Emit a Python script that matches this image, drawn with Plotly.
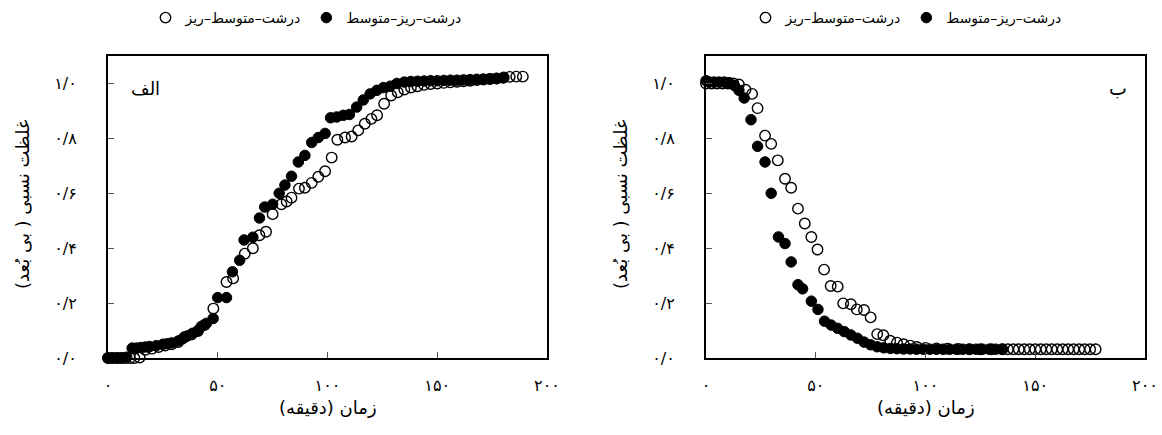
import plotly.graph_objects as go

# ---------------- data ----------------
# panel الف (left)
a_fill_t = [0, 2, 4, 6, 8.5, 11, 13, 15, 17, 19, 22, 25, 27, 29, 32, 34, 36, 38.5, 41, 42.5,
            44.8, 47.9, 50, 54, 56.7, 60, 62, 66, 69, 71.4, 75, 78, 80.6, 83.6, 86.7,
            89.7, 92.8, 95.8, 98.9, 101.4, 104.2, 107.2, 110, 113.3, 116.3, 119.4, 122.5,
            125.5, 128.6, 131.6, 135, 138, 141, 144, 147, 150, 153, 156, 159, 162, 165,
            168, 171, 174, 177, 180]
a_fill_c = [0, 0, 0, 0, 0.003, 0.036, 0.036, 0.038, 0.04, 0.042, 0.045, 0.05, 0.052, 0.055,
            0.062, 0.07, 0.08, 0.09, 0.1, 0.115, 0.126, 0.144, 0.22, 0.22, 0.314, 0.356, 0.43,
            0.44, 0.51, 0.55, 0.56, 0.6, 0.63, 0.662, 0.714, 0.738, 0.785, 0.803, 0.818, 0.875,
            0.878, 0.884, 0.887, 0.914, 0.94, 0.962, 0.975, 0.985, 0.99, 1.0, 1.005, 1.007,
            1.008, 1.009, 1.01, 1.01, 1.011, 1.012, 1.012, 1.013, 1.014, 1.015, 1.016, 1.017,
            1.018, 1.02]
a_open_t = [0, 2, 4, 6, 8, 10, 12, 14.4, 17, 20, 23, 26, 29, 32, 35, 38, 41, 44, 48, 54, 57,
            62.3, 66, 69, 72, 75, 79, 81.4, 83.6, 87, 89.7, 92.8, 95.8, 98.9, 101.9, 104.5,
            108, 111, 114, 117, 120, 122.6, 125.8, 129, 132, 135, 138, 141, 144, 147, 150,
            153, 156, 159, 162, 165, 168, 171, 174, 177, 180.3, 183, 186, 189]
a_open_c = [0, 0, 0, 0, 0, 0, 0, 0.002, 0.03, 0.034, 0.04, 0.045, 0.05, 0.058, 0.077, 0.085,
            0.098, 0.12, 0.18, 0.277, 0.29, 0.38, 0.4, 0.447, 0.46, 0.524, 0.56, 0.57, 0.584,
            0.617, 0.62, 0.638, 0.66, 0.68, 0.73, 0.795, 0.803, 0.807, 0.829, 0.853, 0.871,
            0.884, 0.926, 0.956, 0.968, 0.978, 0.985, 0.99, 0.995, 0.998, 1.0, 1.002, 1.004,
            1.006, 1.008, 1.01, 1.012, 1.014, 1.016, 1.018, 1.022, 1.024, 1.025, 1.025]

# panel ب (right)
b_fill_t = [0, 1.5, 3.7, 6, 8.3, 10.5, 12.8, 15, 17.4, 20.5, 23.5, 26.9, 29.7, 33, 36, 38.8,
            41.9, 44, 48, 51, 54, 57, 60, 63, 66, 69, 72, 75, 78, 81, 84, 87, 90, 93, 96, 99,
            102, 105, 108, 111, 114, 117, 120, 123, 126, 129, 132, 135]
b_fill_c = [1.01, 1.005, 1.005, 1.005, 1.005, 1.003, 0.993, 0.975, 0.947, 0.868, 0.771, 0.714,
            0.6, 0.441, 0.417, 0.35, 0.267, 0.252, 0.207, 0.177, 0.134, 0.12, 0.108, 0.096,
            0.084, 0.072, 0.058, 0.048, 0.041, 0.037, 0.035, 0.034, 0.033, 0.033, 0.032, 0.032,
            0.032, 0.032, 0.032, 0.032, 0.032, 0.032, 0.032, 0.032, 0.032, 0.032, 0.032, 0.032]
b_open_t = [0, 2.5, 5, 7.5, 10, 12.5, 15, 18, 21, 23.5, 26.9, 29.7, 32.7, 36, 38.8, 41.9, 45,
            48, 50.8, 53.8, 56.8, 60, 62.5, 66, 68.7, 72, 75, 78, 80.8, 83.9, 87, 90, 93, 96,
            100, 105, 110, 115, 120, 125, 130, 135, 137.5, 140, 142.5, 145, 147.5, 150, 152.5,
            155, 157.5, 160, 162.5, 165, 167.5, 170, 172.5, 175, 177.5]
b_open_c = [1, 1, 1, 1, 1, 1, 0.996, 0.977, 0.962, 0.91, 0.81, 0.78, 0.72, 0.653, 0.62, 0.544,
            0.49, 0.441, 0.395, 0.322, 0.262, 0.26, 0.199, 0.196, 0.177, 0.175, 0.148, 0.087,
            0.083, 0.063, 0.056, 0.05, 0.045, 0.04, 0.037, 0.035, 0.034, 0.033, 0.032, 0.032,
            0.032, 0.032, 0.032, 0.032, 0.032, 0.032, 0.032, 0.032, 0.032, 0.032, 0.032, 0.032,
            0.032, 0.032, 0.032, 0.032, 0.032, 0.032, 0.032]

name_open = "درشت–متوسط–ریز"
name_fill = "درشت–ریز–متوسط"
panel_labels = ["الف", "ب"]
x_title = "زمان (دقیقه)"
y_title = "غلظت نسبی ( بی بُعد)"
x_tickvals = [0, 50, 100, 150, 200]
x_ticktext = ["۰", "۵۰", "۱۰۰", "۱۵۰", "۲۰۰"]
y_tickvals = [0, 0.2, 0.4, 0.6, 0.8, 1.0]
y_ticktext = ["۰/۰", "۰/۲", "۰/۴", "۰/۶", "۰/۸", "۱/۰"]

# ---------------- figure ----------------
W, H = 1162, 435
FONT = "DejaVu Sans"

fig = go.Figure()

open_marker = dict(symbol="circle-open", size=10.5, color="black", line=dict(width=1.4, color="black"))
fill_marker = dict(symbol="circle", size=10.5, color="black", line=dict(width=1, color="black"))

fig.add_trace(go.Scatter(x=a_open_t, y=a_open_c, mode="markers", name=name_open,
                         marker=open_marker, xaxis="x", yaxis="y", legend="legend", cliponaxis=False))
fig.add_trace(go.Scatter(x=a_fill_t, y=a_fill_c, mode="markers", name=name_fill,
                         marker=fill_marker, xaxis="x", yaxis="y", legend="legend", cliponaxis=False))
fig.add_trace(go.Scatter(x=b_open_t, y=b_open_c, mode="markers", name=name_open,
                         marker=open_marker, xaxis="x2", yaxis="y2", legend="legend2", cliponaxis=False))
fig.add_trace(go.Scatter(x=b_fill_t, y=b_fill_c, mode="markers", name=name_fill,
                         marker=fill_marker, xaxis="x2", yaxis="y2", legend="legend2", cliponaxis=False))

def px_x(p):
    return p / W

def px_y(p):
    return 1 - p / H

ydom = [px_y(358), px_y(56)]
xdom1 = [px_x(108), px_x(547)]
xdom2 = [px_x(706), px_x(1145)]

TICKSIZE = 16
TITLESIZE = 18
LEGENDSIZE = 14

xcommon = dict(range=[0, 200], tickvals=x_tickvals, ticktext=x_ticktext, ticks="inside",
               ticklen=6, tickwidth=1, tickcolor="#555", showline=True, linecolor="black",
               linewidth=2, mirror=True, showgrid=False, zeroline=False, automargin=False,
               tickfont=dict(family=FONT, size=TICKSIZE, color="black"), ticklabelstandoff=12)
ycommon = dict(range=[0, 1.1], tickvals=y_tickvals, ticktext=y_ticktext, ticks="inside",
               ticklen=6, tickwidth=1, tickcolor="#555", showline=True, linecolor="black",
               linewidth=2, mirror=True, showgrid=False, zeroline=False, automargin=False,
               tickfont=dict(family=FONT, size=TICKSIZE, color="black"), ticklabelstandoff=26)

legend_common = dict(orientation="h", xanchor="center", yanchor="middle",
                     font=dict(family=FONT, size=LEGENDSIZE, color="black"), bgcolor="rgba(0,0,0,0)",
                     itemwidth=30, tracegroupgap=0)

fig.update_layout(
    template="none",
    width=W, height=H, margin=dict(l=0, r=0, t=0, b=0, autoexpand=False),
    paper_bgcolor="white", plot_bgcolor="white",
    xaxis=dict(domain=xdom1, anchor="y", **xcommon),
    yaxis=dict(domain=ydom, anchor="x", **ycommon),
    xaxis2=dict(domain=xdom2, anchor="y2", **xcommon),
    yaxis2=dict(domain=ydom, anchor="x2", **ycommon),
    legend=dict(x=px_x(306), y=px_y(18), **legend_common),
    legend2=dict(x=px_x(906), y=px_y(18), **legend_common),
    showlegend=True,
)

annotations = [
    dict(text=panel_labels[0], x=px_x(145), y=px_y(88), xref="paper", yref="paper",
         xanchor="center", yanchor="middle",
         showarrow=False, font=dict(family=FONT, size=18, color="black")),
    dict(text=panel_labels[1], x=px_x(1118), y=px_y(88), xref="paper", yref="paper",
         xanchor="center", yanchor="middle",
         showarrow=False, font=dict(family=FONT, size=19, color="black")),
    dict(text=x_title, x=(xdom1[0] + xdom1[1]) / 2, y=px_y(407), xref="paper", yref="paper",
         xanchor="center", yanchor="middle",
         showarrow=False, font=dict(family=FONT, size=TITLESIZE, color="black")),
    dict(text=x_title, x=(xdom2[0] + xdom2[1]) / 2, y=px_y(407), xref="paper", yref="paper",
         xanchor="center", yanchor="middle",
         showarrow=False, font=dict(family=FONT, size=TITLESIZE, color="black")),
    dict(text=y_title, x=px_x(22), y=px_y(205), xref="paper", yref="paper", textangle=-90,
         xanchor="center", yanchor="middle",
         showarrow=False, font=dict(family=FONT, size=TITLESIZE, color="black")),
    dict(text=y_title, x=px_x(620), y=px_y(205), xref="paper", yref="paper", textangle=-90,
         xanchor="center", yanchor="middle",
         showarrow=False, font=dict(family=FONT, size=TITLESIZE, color="black")),
]
fig.update_layout(annotations=annotations)

# the page's default body margin would shift the figure by 8 px
fig.write_html("out.html", config={"displayModeBar": False},
               post_script="document.body.style.margin='0px';")
